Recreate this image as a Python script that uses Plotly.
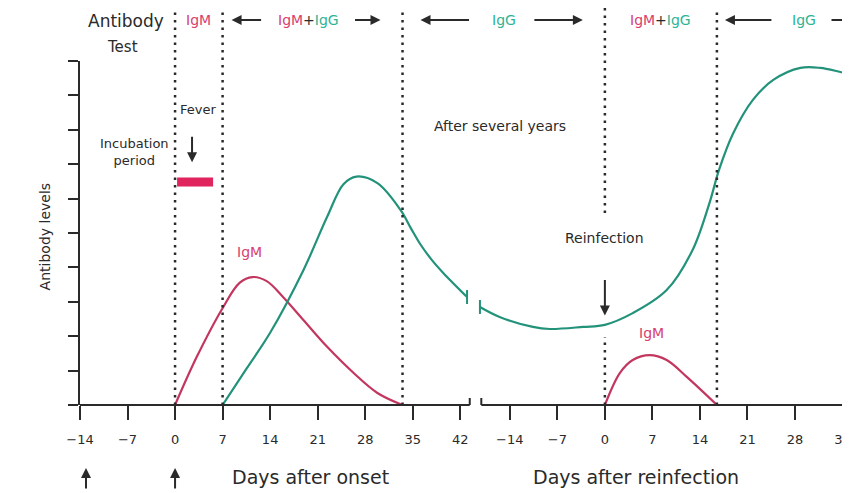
import plotly.graph_objects as go

# ---- data: days on the x axis, antibody level (0-10) on the y axis ----
onset_ticks = [-14, -7, 0, 7, 14, 21, 28, 35, 42]
reinf_ticks = [-14, -7, 0, 7, 14, 21, 28, 35]
REINF_OFFSET = 63.3  # where day 0 after reinfection sits on the shared axis

igm1_days = [0, 3.2, 7.1, 9.5, 11.4, 13.5, 15.9, 18.9, 22.4, 26.3, 29.8, 33.5]
igm1_levels = [0, 1.4, 2.85, 3.55, 3.72, 3.6, 3.14, 2.47, 1.69, 0.93, 0.35, 0]

igg1_days = [7, 10.5, 14, 18.9, 22.4, 24.8, 26.7, 29.8, 33.2, 34.7, 36.1, 37.8, 39.5, 43.0]
igg1_levels = [0, 1.05, 2.1, 3.92, 5.47, 6.42, 6.64, 6.45, 5.67, 5.15, 4.68, 4.22, 3.84, 3.14]

igg2_days = [-18.4, -15.5, -10.6, -8.1, -3.2, 0, 4.1, 9.1, 12.9, 15.4, 16.8,
             18.9, 21.8, 24.8, 28.8, 31.7, 34.7, 36.5]
igg2_levels = [2.85, 2.56, 2.27, 2.21, 2.27, 2.33, 2.67, 3.34, 4.5, 5.87, 6.83,
               7.9, 8.87, 9.45, 9.8, 9.8, 9.68, 9.6]

igm2_days = [0, 2.2, 4.1, 6.6, 9.1, 12.1, 16.5]
igm2_levels = [0, 0.93, 1.31, 1.45, 1.31, 0.81, 0]

fever_days = [0.3, 5.6]
fever_level = 6.48

onset_lines = [0, 7, 33.5]
reinf_lines = [0, 16.5]
axis_break = [43.4, 45.1]
X_RANGE = [-14, 99.4]

PINK = "#c2365f"
GREEN = "#23927a"
PINK_TXT = "#d8406f"
GREEN_TXT = "#2fb394"
INK = "#2a2a2a"
FONT = "DejaVu Sans"


def r(days):
    return [d + REINF_OFFSET for d in days]


def minus(v):
    return str(v).replace("-", "\u2212")


fig = go.Figure()

curves = [
    (igm1_days, igm1_levels, PINK),
    (igg1_days, igg1_levels, GREEN),
    (r(igg2_days), igg2_levels, GREEN),
    (r(igm2_days), igm2_levels, PINK),
]
for xs, ys, col in curves:
    fig.add_trace(go.Scatter(
        x=xs, y=ys, mode="lines",
        line=dict(color=col, width=2.2, shape="spline", smoothing=1.0),
        showlegend=False, hoverinfo="skip",
    ))

# fever bar
fig.add_trace(go.Scatter(
    x=fever_days, y=[fever_level, fever_level], mode="lines",
    line=dict(color="#e0245e", width=9),
    showlegend=False, hoverinfo="skip",
))

# axis line in two pieces with break marks
fig.add_shape(type="line", xref="x", yref="paper", x0=X_RANGE[0], x1=axis_break[0],
              y0=0, y1=0, line=dict(color=INK, width=2))
fig.add_shape(type="line", xref="x", yref="paper", x0=axis_break[1], x1=X_RANGE[1],
              y0=0, y1=0, line=dict(color=INK, width=2))
for xb in axis_break:
    fig.add_shape(type="line", xref="x", yref="y", x0=xb, x1=xb,
                  ysizemode="pixel", yanchor=0, y0=-7, y1=7,
                  line=dict(color=INK, width=2))

# break marks on the IgG curve
for xb, yb in [(igg1_days[-1], igg1_levels[-1]), (r(igg2_days)[0], igg2_levels[0])]:
    fig.add_shape(type="line", xref="x", yref="y", x0=xb, x1=xb,
                  ysizemode="pixel", yanchor=yb, y0=-7, y1=7,
                  line=dict(color=GREEN, width=2))

# dotted guide lines
DOT = dict(color=INK, width=2.5, dash="2.5px,5px")
TOP = 1.16
for d in onset_lines:
    fig.add_shape(type="line", xref="x", yref="paper", x0=d, x1=d, y0=0, y1=TOP, line=DOT)
for d in r(reinf_lines):
    if d == REINF_OFFSET:
        fig.add_shape(type="line", xref="x", yref="paper", x0=d, x1=d, y0=0, y1=0.198, line=DOT)
        fig.add_shape(type="line", xref="x", yref="paper", x0=d, x1=d, y0=0.558, y1=TOP, line=DOT)
    else:
        fig.add_shape(type="line", xref="x", yref="paper", x0=d, x1=d, y0=0, y1=TOP, line=DOT)

# ---- header row ----
HY = 1.119


def text(x, y, s, size=14, color=INK, xref="x", yref="paper", **kw):
    fig.add_annotation(x=x, y=y, xref=xref, yref=yref, text=s, showarrow=False,
                       xanchor="center", yanchor="middle",
                       font=dict(family=FONT, size=size, color=color), **kw)


def arrow(x, y, ax, ay, xref="x", yref="paper", xshift=0, width=2):
    fig.add_annotation(x=x, y=y, xref=xref, yref=yref, text="", showarrow=True,
                       ax=ax, ay=ay, xshift=xshift, arrowhead=2, arrowsize=1,
                       arrowwidth=width, arrowcolor=INK)


igm = f"<span style='color:{PINK_TXT}'>IgM</span>"
igg = f"<span style='color:{GREEN_TXT}'>IgG</span>"
both = f"{igm}<span style='color:{INK}'>+</span>{igg}"

text(0.06, 1.116, "Antibody", size=17, xref="paper")
text(0.055, 1.04, "Test", size=15, xref="paper")

text((onset_lines[0] + onset_lines[1]) / 2, HY, igm, size=14)

text((onset_lines[1] + onset_lines[2]) / 2, HY, both, size=14, xshift=-4)
arrow(onset_lines[1], HY, 31, 0, xshift=9)
arrow(onset_lines[2], HY, -27, 0, xshift=-22)

text((onset_lines[2] + REINF_OFFSET) / 2, HY, igg, size=14)
arrow(onset_lines[2], HY, 50, 0, xshift=18)
arrow(REINF_OFFSET, HY, -50, 0, xshift=-22)

text(REINF_OFFSET + sum(reinf_lines) / 2, HY, both, size=14)

end_line = REINF_OFFSET + reinf_lines[1]
text(end_line, HY, igg, size=14, xshift=87)
arrow(end_line, HY, 48, 0, xshift=8)
arrow(X_RANGE[1], HY, -40, 0, xshift=20)

# ---- notes inside the plot ----
text(3.4, 8.58, "Fever", size=13, yref="y")
arrow(2.5, 7.06, 0, -27, yref="y")
text(-6.0, 7.36, "Incubation<br>period", size=13, yref="y")
text(11.0, 4.45, "IgM", size=14, color=PINK_TXT, yref="y")
text(REINF_OFFSET + 6.8, 2.1, "IgM", size=14, color=PINK_TXT, yref="y")
text(47.8, 8.1, "After several years", size=14, yref="y")
text(REINF_OFFSET, 4.85, "Reinfection", size=14, yref="y")
arrow(REINF_OFFSET, 2.6, 0, -37, yref="y")

# ---- below the axis ----
text(0.299, -0.209, "Days after onset", size=19, xref="paper")
text(0.722, -0.209, "Days after reinfection", size=19, xref="paper")
arrow(onset_ticks[0], -0.183, 0, 22, xshift=6)
arrow(0, -0.183, 0, 22)

text(-0.0455, 0.49, "Antibody levels", size=14, xref="paper", textangle=-90)

tickvals = onset_ticks + r(reinf_ticks)
ticktext = [minus(v) for v in onset_ticks] + [minus(v) for v in reinf_ticks]

fig.update_xaxes(
    range=X_RANGE, tickvals=tickvals, ticktext=ticktext,
    ticks="outside", ticklen=14, tickwidth=2, tickcolor=INK,
    ticklabelstandoff=8, ticklabeloverflow="allow",
    tickfont=dict(family=FONT, size=13, color=INK),
    showline=False, showgrid=False, zeroline=False,
)
fig.update_yaxes(
    range=[0, 10], tickvals=list(range(11)), showticklabels=False,
    ticks="outside", ticklen=10, tickwidth=2, tickcolor=INK,
    showline=True, linewidth=2, linecolor=INK,
    showgrid=False, zeroline=False,
)
# page body has an 8px margin, so the figure is 8px smaller to fit the window
fig.update_layout(
    width=842, height=485,
    margin=dict(l=72, r=0, t=53, b=88),
    paper_bgcolor="white", plot_bgcolor="white",
    font=dict(family=FONT, color=INK),
    showlegend=False,
)
fig.write_html("out.html")
